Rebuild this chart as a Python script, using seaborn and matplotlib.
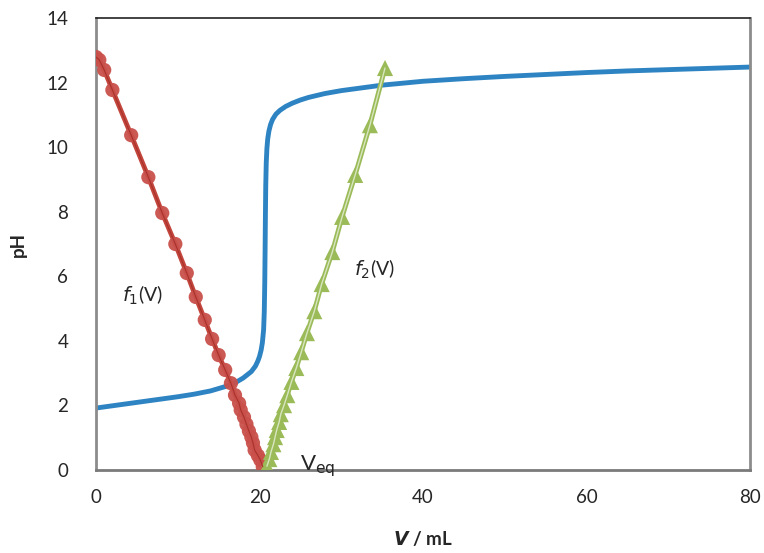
import numpy as np
import pandas as pd
import matplotlib
matplotlib.use('Agg')
import matplotlib.pyplot as plt
import seaborn as sns

# titration curve
v_curve = [0, 2, 4, 6, 8, 10, 12, 14, 16, 17, 18, 19, 19.5, 19.8, 20.0, 20.2, 20.35,
           20.5, 20.58, 20.64, 20.68, 20.72, 20.76, 20.82, 20.9, 21.0, 21.15, 21.35,
           21.6, 22.0, 22.5, 23.2, 24, 25, 26, 28, 30, 35, 40, 45,
           50, 55, 60, 65, 70, 75, 80]
ph_curve = [1.92, 1.99, 2.06, 2.13, 2.20, 2.27, 2.35, 2.45, 2.60, 2.70, 2.85, 3.05,
            3.22, 3.38, 3.52, 3.72, 3.95, 4.35, 4.9, 5.8, 6.8, 7.9, 8.8, 9.5, 9.95,
            10.25, 10.5, 10.7, 10.86, 11.02, 11.14, 11.26, 11.36, 11.46, 11.54,
            11.66, 11.75, 11.92, 12.04, 12.12, 12.19, 12.25, 12.31,
            12.36, 12.40, 12.44, 12.48]

# f1(V)
v_f1 = [0, 0.4, 1.0, 2.0, 4.3, 6.4, 8.1, 9.7, 11.1, 12.2, 13.3, 14.2, 15.0, 15.8,
        16.5, 17.0, 17.5, 17.7, 18.1, 18.4, 18.7, 19.0, 19.2, 19.4, 19.8, 20.1, 20.4]
f1 = [12.79, 12.70, 12.39, 11.77, 10.37, 9.07, 7.96, 7.00, 6.10, 5.36, 4.65, 4.06,
      3.56, 3.10, 2.69, 2.32, 2.07, 1.86, 1.64, 1.42, 1.21, 1.02, 0.84, 0.62, 0.45,
      0.31, 0.10]

# f2(V)
v_f2 = [20.9, 21.2, 21.4, 21.7, 21.9, 22.1, 22.4, 22.6, 23.0, 23.4, 23.9, 24.5,
        25.1, 25.8, 26.7, 27.6, 28.9, 30.1, 31.7, 33.5, 35.35]
f2 = [0.12, 0.34, 0.56, 0.80, 1.02, 1.24, 1.49, 1.73, 2.01, 2.32, 2.73, 3.16, 3.65,
      4.24, 4.92, 5.76, 6.75, 7.84, 9.14, 10.68, 12.45]

xticks = [0, 20, 40, 60, 80]
yticks = [0, 2, 4, 6, 8, 10, 12, 14]

BLUE = '#2E84C2'
RED = '#C3463D'
GREEN = '#9BBB59'

sns.set_style('white')
plt.rcParams['font.family'] = ['Lato', 'DejaVu Sans']

df_c = pd.DataFrame({'V': v_curve, 'pH': ph_curve})
df_1 = pd.DataFrame({'V': v_f1, 'pH': f1})
df_2 = pd.DataFrame({'V': v_f2, 'pH': f2})

fig = plt.figure(figsize=(7.64, 5.53), dpi=100)
ax = fig.add_axes([0.1257, 0.150, 0.856, 0.8175])

sns.lineplot(data=df_c, x='V', y='pH', ax=ax, color=BLUE, lw=3.5, sort=False,
             estimator=None, zorder=2)

sns.lineplot(data=df_1, x='V', y='pH', ax=ax, color=RED, lw=3.5, sort=False,
             estimator=None, zorder=3)
sns.scatterplot(data=df_1, x='V', y='pH', ax=ax, color='#C9504B', s=105,
                marker='o', edgecolor='none', alpha=0.95, zorder=4)
sns.lineplot(data=df_1, x='V', y='pH', ax=ax, color='#A8322B', lw=0.8, sort=False,
             estimator=None, zorder=5)

sns.lineplot(data=df_2, x='V', y='pH', ax=ax, color=GREEN, lw=3.5, sort=False,
             estimator=None, zorder=3)
sns.scatterplot(data=df_2, x='V', y='pH', ax=ax, color=GREEN, s=135,
                marker='^', edgecolor='none', zorder=4)
sns.lineplot(data=df_2, x='V', y='pH', ax=ax, color='#D8E6C0', lw=1.0, sort=False,
             estimator=None, zorder=5)

ax.set_xlim(0, 80)
ax.set_ylim(0, 14)
ax.set_xticks(xticks)
ax.set_yticks(yticks)
ax.tick_params(axis='both', length=0, labelsize=13.5, pad=14)
ax.tick_params(axis='y', pad=20)

for side in ['left', 'right', 'bottom']:
    ax.spines[side].set_color('#8C8C8C')
    ax.spines[side].set_linewidth(2)
ax.spines['bottom'].set_color('#7A7A7A')
ax.spines['top'].set_color('#222222')
ax.spines['top'].set_linewidth(1.2)

ax.set_xlabel(r'$\bfit{V}$ / mL', fontsize=13.5, fontweight='bold', labelpad=16)
ax.set_ylabel('pH', fontsize=13.5, fontweight='bold', labelpad=14)

ax.text(3.2, 5.4, r'$\mathit{f}_{\mathit{1}}$(V)', fontsize=14, va='center')
ax.text(31.6, 6.2, r'$\mathit{f}_{\mathit{2}}$(V)', fontsize=14, va='center')
ax.text(25.0, 0.12, r'V$_{\mathrm{eq}}$', fontsize=16, va='center')

fig.savefig('out.png', dpi=100)
